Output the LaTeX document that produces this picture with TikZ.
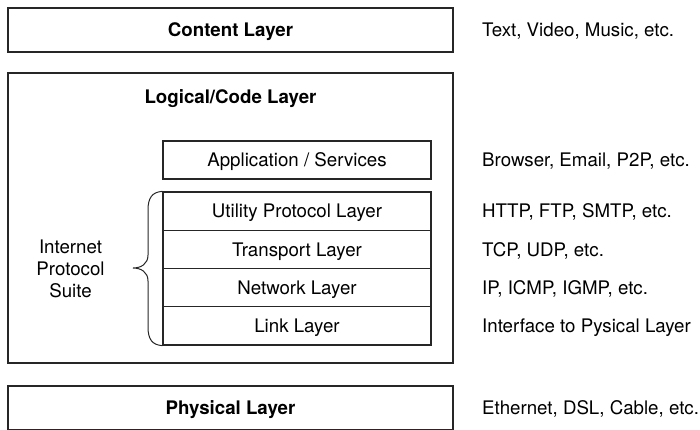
\documentclass[tikz,border=0pt]{standalone}
\usepackage{fontspec}
\setmainfont{TeX Gyre Heros}
\begin{document}
\begin{tikzpicture}[x=1pt,y=-1pt,
  every node/.style={font=\fontsize{18.7}{22}\selectfont},
  layerbox/.style={draw=black!85,line width=1.2pt,inner sep=0pt},
  label/.style={anchor=base,inner sep=0pt},
  title/.style={label,font=\fontsize{18.7}{22}\selectfont\bfseries},
  note/.style={anchor=base west,inner sep=0pt}]
\useasboundingbox (0,0) rectangle (700,429);
\clip (0,0) rectangle (700,429);

% outer layers
\node[layerbox,minimum width=445pt,minimum height=44pt] (content) at (230.5,30) {};
\node[title] (contentT) at (230.5,36.7) {Content Layer};
\node[layerbox,minimum width=445pt,minimum height=290pt] (logical) at (230.5,218) {};
\node[title] (logicalT) at (230.5,103.5) {Logical/Code Layer};
\node[layerbox,minimum width=445pt,minimum height=44pt] (physical) at (230.5,408) {};
\node[title] (physicalT) at (230.5,414.7) {Physical Layer};

% inner stack
\tikzset{inner/.style={layerbox,minimum width=268pt,minimum height=38.25pt}}
\node[inner,minimum height=38pt] (app) at (297,160) {};
\node[inner] (util) at (297,211.1) {};
\node[inner] (trans) at (297,249.4) {};
\node[inner] (net) at (297,287.6) {};
\node[inner] (link) at (297,325.9) {};
\node[label] (appT) at (297,166.7) {Application / Services};
\node[label] (utilT) at (297,217.8) {Utility Protocol Layer};
\node[label] (transT) at (297,256.1) {Transport Layer};
\node[label] (netT) at (297,294.3) {Network Layer};
\node[label] (linkT) at (297,332.6) {Link Layer};

% brace around the protocol suite
\draw[black!85,line width=1pt]
  (util.north west) .. controls (152,192) and (148,198) .. (148,210)
  -- (148,255) .. controls (148,264) and (141,268) .. (133,268)
  .. controls (141,268) and (148,272) .. (148,281)
  -- (148,327) .. controls (148,339) and (152,345) .. (link.south west);
\node[align=center,inner sep=0pt] (ips) at (70.5,268.8) {Internet\\Protocol\\Suite};

% examples column
\node[note] (n1) at (482,36.7) {Text, Video, Music, etc.};
\node[note] (n2) at (482,166.7) {Browser, Email, P2P, etc.};
\node[note] (n3) at (482,217.8) {HTTP, FTP, SMTP, etc.};
\node[note] (n4) at (482,256.1) {TCP, UDP, etc.};
\node[note] (n5) at (482,294.3) {IP, ICMP, IGMP, etc.};
\node[note] (n6) at (482,332.6) {Interface to Pysical Layer};
\node[note] (n7) at (482,414.7) {Ethernet, DSL, Cable, etc.};
\end{tikzpicture}
\end{document}
